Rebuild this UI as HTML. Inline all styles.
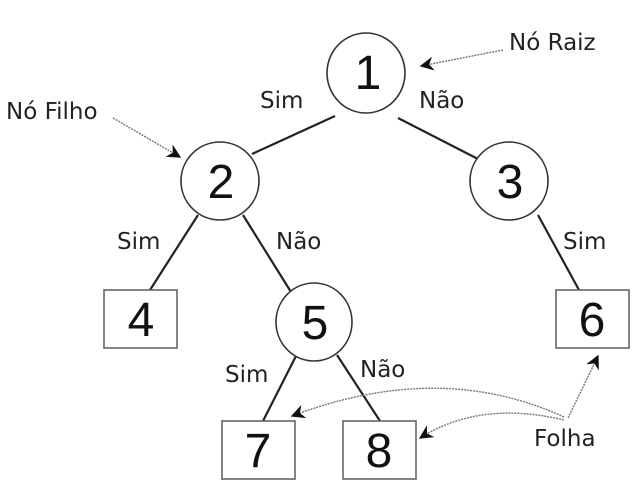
<!DOCTYPE html>
<html><head><style>html,body{margin:0;padding:0;background:#fff;width:640px;height:489px;overflow:hidden}</style></head>
<body>
<svg width="640" height="489" viewBox="0 0 640 489" xmlns="http://www.w3.org/2000/svg" font-family="'DejaVu Sans','Liberation Sans',sans-serif">
<defs>
<marker id="a" viewBox="0 0 10 10" refX="9" refY="5" markerWidth="18" markerHeight="14" orient="auto-start-reverse" markerUnits="userSpaceOnUse"><path d="M0,0 L10,5 L0,10 L3,5 z" fill="#111"/></marker>
</defs>
<g stroke="#222" stroke-width="2.2" fill="none">
<line x1="335" y1="116" x2="252" y2="154"/>
<line x1="398" y1="118" x2="478" y2="159"/>
<line x1="198" y1="215" x2="150" y2="290"/>
<line x1="243" y1="215" x2="291" y2="292"/>
<line x1="538" y1="215" x2="579" y2="290"/>
<line x1="296" y1="356" x2="263" y2="421"/>
<line x1="337" y1="355" x2="380" y2="421"/>
</g>
<g stroke="#333" stroke-width="1.6" fill="#fff">
<ellipse cx="366" cy="73" rx="39" ry="40"/>
<ellipse cx="220" cy="181" rx="39" ry="39"/>
<ellipse cx="509" cy="181" rx="39" ry="39"/>
<ellipse cx="314" cy="322" rx="38" ry="39"/>
</g>
<g stroke="#666" stroke-width="1.6" fill="#fff">
<rect x="104" y="290" width="73" height="58"/>
<rect x="556" y="290" width="73" height="58"/>
<rect x="222" y="421" width="73" height="58"/>
<rect x="343" y="421" width="73" height="58"/>
</g>
<g font-size="48" text-anchor="middle" fill="#111" font-family="'Liberation Sans',sans-serif">
<text x="368" y="89">1</text>
<text x="221" y="198">2</text>
<text x="510" y="198">3</text>
<text x="141" y="336">4</text>
<text x="315" y="339">5</text>
<text x="592" y="336">6</text>
<text x="258" y="467">7</text>
<text x="379" y="467">8</text>
</g>
<g font-size="23" fill="#222">
<text x="260" y="108">Sim</text>
<text x="419" y="108">Não</text>
<text x="117" y="249">Sim</text>
<text x="276" y="249">Não</text>
<text x="563" y="249">Sim</text>
<text x="225" y="382">Sim</text>
<text x="360" y="377">Não</text>
<text x="6" y="119">Nó Filho</text>
<text x="509" y="50">Nó Raiz</text>
<text x="534" y="446">Folha</text>
</g>
<g stroke="#777" stroke-width="1.4" stroke-dasharray="2,1" fill="none">
<path d="M503,50 L421,66" marker-end="url(#a)"/>
<path d="M113,118 L180,157" marker-end="url(#a)"/>
<path d="M568,418 L598,356" marker-end="url(#a)"/>
<path d="M564,417 Q440,360 292,416" marker-end="url(#a)"/>
<path d="M564,420 Q480,400 420,438" marker-end="url(#a)"/>
</g>
</svg>
</body></html>
